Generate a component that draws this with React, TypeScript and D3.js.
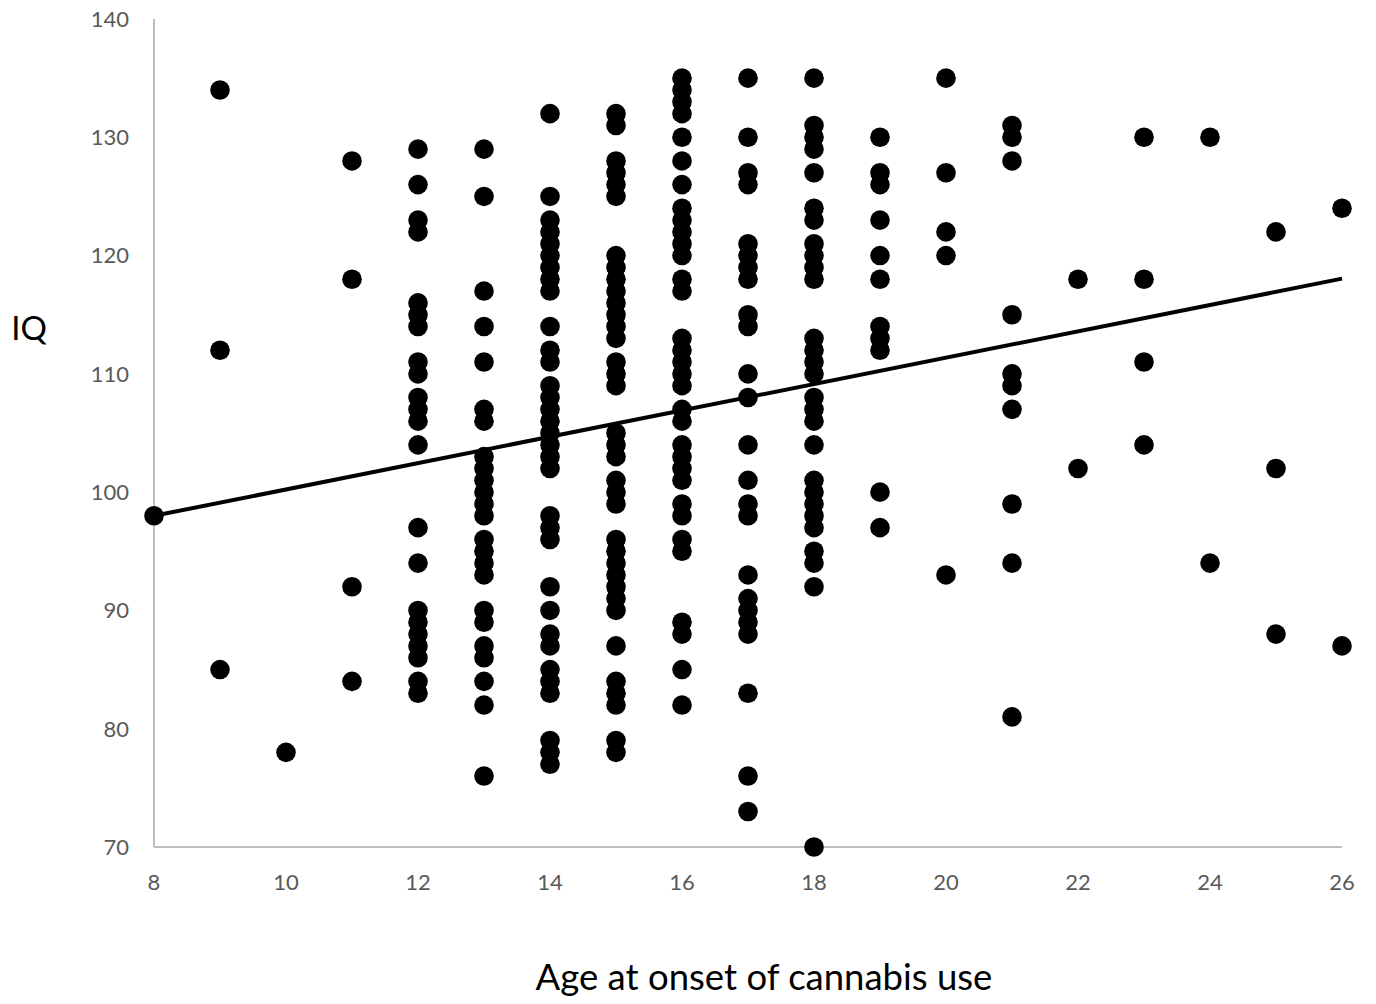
import React, { useEffect, useRef } from "react";
import * as d3 from "d3";

// IQ values, one array per age at onset
const iqAge8 = [98];
const iqAge9 = [134, 112, 85];
const iqAge10 = [78];
const iqAge11 = [128, 118, 92, 84];
const iqAge12 = [129, 126, 123, 122, 116, 115, 114, 111, 110, 108, 107, 106, 104, 97, 94, 90, 89, 88, 87, 86, 84, 83];
const iqAge13 = [129, 125, 117, 114, 111, 107, 106, 103, 102, 101, 100, 99, 98, 96, 95, 94, 93, 90, 89, 87, 86, 84, 82, 76];
const iqAge14 = [132, 125, 123, 122, 121, 120, 119, 118, 117, 114, 112, 111, 109, 108, 107, 106, 105, 104, 103, 102, 98, 97, 96, 92, 90, 88, 87, 85, 84, 83, 79, 78, 77];
const iqAge15 = [132, 131, 128, 127, 126, 125, 120, 119, 118, 117, 116, 115, 114, 113, 111, 110, 109, 105, 104, 103, 101, 100, 99, 96, 95, 94, 93, 92, 91, 90, 87, 84, 83, 82, 79, 78];
const iqAge16 = [135, 134, 133, 132, 130, 128, 126, 124, 123, 122, 121, 120, 118, 117, 113, 112, 111, 110, 109, 107, 106, 104, 103, 102, 101, 99, 98, 96, 95, 89, 88, 85, 82];
const iqAge17 = [135, 130, 127, 126, 121, 120, 119, 118, 115, 114, 110, 108, 104, 101, 99, 98, 93, 91, 90, 89, 88, 83, 76, 73];
const iqAge18 = [135, 131, 130, 129, 127, 124, 123, 121, 120, 119, 118, 113, 112, 111, 110, 108, 107, 106, 104, 101, 100, 99, 98, 97, 95, 94, 92, 70];
const iqAge19 = [130, 127, 126, 123, 120, 118, 114, 113, 112, 100, 97];
const iqAge20 = [135, 127, 122, 120, 93];
const iqAge21 = [131, 130, 128, 115, 110, 109, 107, 99, 94, 81];
const iqAge22 = [118, 102];
const iqAge23 = [130, 118, 111, 104];
const iqAge24 = [130, 94];
const iqAge25 = [122, 102, 88];
const iqAge26 = [124, 87];

const ages = [8, 9, 10, 11, 12, 13, 14, 15, 16, 17, 18, 19, 20, 21, 22, 23, 24, 25, 26];
const iqByAge = [
  iqAge8, iqAge9, iqAge10, iqAge11, iqAge12, iqAge13, iqAge14, iqAge15, iqAge16, iqAge17,
  iqAge18, iqAge19, iqAge20, iqAge21, iqAge22, iqAge23, iqAge24, iqAge25, iqAge26,
];

// Axis ticks
const xTicks = [8, 10, 12, 14, 16, 18, 20, 22, 24, 26];
const yTicks = [70, 80, 90, 100, 110, 120, 130, 140];

// Linear trend line: value at age 8 and at age 26
const trendAges = [8, 26];
const trendIQ = [98, 118.05];

const xTitle = "Age at onset of cannabis use";
const yTitle = "IQ";

export default function App() {
  const ref = useRef<SVGSVGElement>(null);

  useEffect(() => {
    const svg = d3.select(ref.current);
    svg.selectAll("*").remove();

    const x = d3.scaleLinear().domain([8, 26]).range([154, 1342]);
    const y = d3.scaleLinear().domain([70, 140]).range([847, 19]);

    const font = "Lato, 'Open Sans', sans-serif";
    const axisColor = "#bfbfbf";
    const labelColor = "#595959";

    // axis lines
    svg.append("line")
      .attr("x1", x(8)).attr("x2", x(8))
      .attr("y1", y(140)).attr("y2", y(70))
      .attr("stroke", axisColor).attr("stroke-width", 2);
    svg.append("line")
      .attr("x1", x(8)).attr("x2", x(26))
      .attr("y1", y(70)).attr("y2", y(70))
      .attr("stroke", axisColor).attr("stroke-width", 2);

    // y tick labels
    svg.append("g").selectAll("text")
      .data(yTicks)
      .join("text")
      .attr("x", 129)
      .attr("y", (d) => y(d))
      .attr("dy", "0.36em")
      .attr("text-anchor", "end")
      .attr("font-family", font)
      .attr("font-size", 22)
      .attr("fill", labelColor)
      .text((d) => d);

    // x tick labels
    svg.append("g").selectAll("text")
      .data(xTicks)
      .join("text")
      .attr("x", (d) => x(d))
      .attr("y", 882)
      .attr("dy", "0.36em")
      .attr("text-anchor", "middle")
      .attr("font-family", font)
      .attr("font-size", 22)
      .attr("fill", labelColor)
      .text((d) => d);

    // points
    const points: { age: number; iq: number }[] = [];
    ages.forEach((a, i) => iqByAge[i].forEach((v) => points.push({ age: a, iq: v })));

    svg.append("g").selectAll("circle")
      .data(points)
      .join("circle")
      .attr("cx", (d) => x(d.age))
      .attr("cy", (d) => y(d.iq))
      .attr("r", 9.8)
      .attr("fill", "#000");

    // trend line
    const line = d3.line<number>()
      .x((_, i) => x(trendAges[i]))
      .y((d) => y(d));
    svg.append("path")
      .attr("d", line(trendIQ))
      .attr("fill", "none")
      .attr("stroke", "#000")
      .attr("stroke-width", 4);

    // axis titles
    svg.append("text")
      .attr("x", 29)
      .attr("y", 328)
      .attr("dy", "0.36em")
      .attr("text-anchor", "middle")
      .attr("font-family", font)
      .attr("font-size", 33)
      .attr("fill", "#000")
      .text(yTitle);

    svg.append("text")
      .attr("x", 764)
      .attr("y", 990)
      .attr("text-anchor", "middle")
      .attr("font-family", font)
      .attr("font-size", 36.5)
      .attr("fill", "#000")
      .text(xTitle);
  }, []);

  return (
    <svg
      ref={ref}
      width={1376}
      height={1004}
      style={{ position: "absolute", left: 0, top: 0, background: "#fff" }}
    />
  );
}
